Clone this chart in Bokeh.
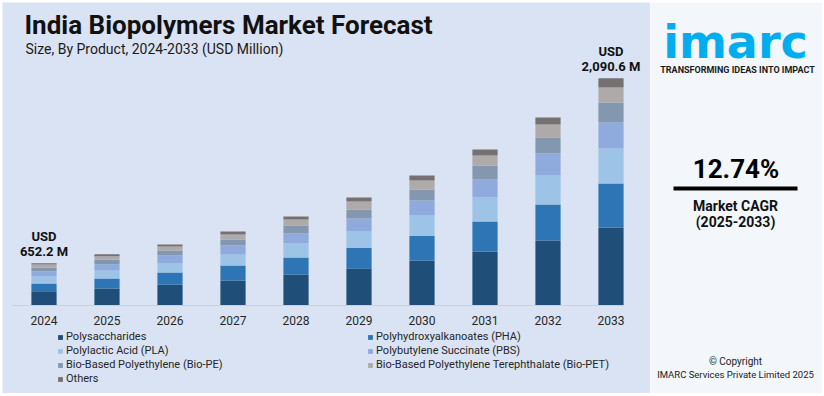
from bokeh.plotting import figure
from bokeh.models import Range1d, Legend, LegendItem, ColumnDataSource, Spacer
from bokeh.layouts import row, column
from bokeh.embed import file_html
from bokeh.resources import INLINE
from bokeh.core.properties import value

# ---------------- data ----------------
years = ["2024", "2025", "2026", "2027", "2028", "2029", "2030", "2031", "2032", "2033"]
series_names = [
    "Polysaccharides",
    "Polyhydroxyalkanoates (PHA)",
    "Polylactic Acid (PLA)",
    "Polybutylene Succinate (PBS)",
    "Bio-Based Polyethylene (Bio-PE)",
    "Bio-Based Polyethylene Terephthalate (Bio-PET)",
    "Others",
]
polysaccharides = [434.5, 455.5, 486.6, 517.7, 564.3, 608.6, 673.2, 743.2, 828.7, 929.8]
pha = [59.9, 77.8, 93.3, 116.6, 132.2, 163.3, 192.0, 233.3, 279.9, 342.1]
pla = [54.4, 62.2, 70.0, 85.5, 108.9, 126.7, 157.8, 186.6, 225.5, 272.1]
pbs = [38.9, 49.0, 62.2, 70.0, 77.8, 101.1, 116.6, 140.0, 171.0, 202.2]
bio_pe = [31.1, 36.5, 38.9, 46.7, 62.2, 67.6, 85.5, 108.9, 124.4, 155.5]
bio_pet = [23.3, 25.7, 31.1, 38.9, 46.7, 64.5, 70.0, 77.8, 101.1, 116.6]
others = [10.1, 15.6, 15.6, 23.3, 23.3, 31.1, 38.9, 46.7, 54.4, 72.3]
colors = ["#1f4e79", "#2e75b6", "#9dc3e6", "#8faadc", "#8497b0", "#aeaaaa", "#767171"]
axis_min = 323.3          # value axis of the bar chart starts here (not at zero)
cagr_text = "12.74%"
cagr_period = "(2025-2033)"

series = [polysaccharides, pha, pla, pbs, bio_pe, bio_pet, others]
n = len(years)
idx = list(range(n))
totals = [round(sum(v), 1) for v in zip(*series)]

BG = "#dae3f3"
FONT = "Roboto"
PX = 7.775  # value units per pixel

# ---------------- left panel ----------------
W1, H1 = 648, 391
x0 = -41.5 / 63.0
p = figure(width=W1, height=H1, output_backend="svg", toolbar_location=None,
           x_range=Range1d(x0, x0 + W1 / 63.0),
           y_range=Range1d(axis_min - 88 * PX, axis_min + 303 * PX),
           min_border=0)
p.background_fill_color = BG
p.border_fill_color = BG
p.outline_line_color = None
p.grid.visible = False
p.axis.visible = False

# stacked bars (clipped at the value-axis minimum)
renderers = []
cum = [0.0] * n
for name, s, c in zip(series_names, series, colors):
    bottoms = [max(b, axis_min) for b in cum]
    tops = [b + v for b, v in zip(cum, s)]
    src = ColumnDataSource(dict(x=idx, bottom=bottoms, top=tops))
    r = p.vbar(x="x", bottom="bottom", top="top", width=0.4, fill_color=c,
               line_color=None, source=src)
    renderers.append(r)
    cum = tops

# category axis line and labels
p.segment(x0=[idx[0] - 0.5], x1=[idx[-1] + 0.214], y0=[axis_min], y1=[axis_min],
          line_color="#c9d0dc", line_width=1)
p.text(x=idx, y=[axis_min] * n, text=years, y_offset=15, text_align="center",
       text_baseline="middle", text_font=value(FONT), text_font_size="12px",
       text_color="#262626")

# total labels on first and last bar
lbl_x, lbl_y, lbl_t, lbl_off = [], [], [], []
for i in (idx[0], idx[-1]):
    lbl_x += [i, i]
    lbl_y += [totals[i], totals[i]]
    lbl_t += ["USD", "{:,.1f} M".format(totals[i])]
    lbl_off += [-27, -12]
p.text(x=lbl_x, y=lbl_y, text=lbl_t, y_offset=lbl_off, text_align="center",
       text_baseline="middle", text_font=value(FONT), text_font_style="bold",
       text_font_size="13px", text_color="#111111")

# title / subtitle  (screen rows 24 and 48)
p.text(x=[x0], y=[axis_min + (305 - 24) * PX], x_offset=22,
       text=["India Biopolymers Market Forecast"],
       text_font=value(FONT), text_font_style="bold", text_font_size="26px",
       text_color="#111111", text_baseline="middle")
p.text(x=[x0], y=[axis_min + (305 - 48) * PX], x_offset=23,
       text=["Size, By Product, 2024-2033 (USD Million)"],
       text_font=value(FONT), text_font_size="14px", text_color="#1a1a1a",
       text_baseline="middle")

legend = Legend(items=[LegendItem(label=nm, renderers=[r]) for nm, r in zip(series_names, renderers)],
                location=(55, 8), orientation="horizontal", ncols=2,
                glyph_width=6, glyph_height=6, label_standoff=3, label_width=300,
                label_height=11, spacing=1, padding=0, margin=0,
                label_text_font=FONT, label_text_font_size="11px", label_text_color="#262626",
                background_fill_alpha=0, border_line_color=None)
p.add_layout(legend, "center")

# ---------------- right panel ----------------
W2 = 172
q = figure(width=W2, height=H1, output_backend="svg", toolbar_location=None,
           x_range=Range1d(0, W2), y_range=Range1d(H1, 0), min_border=0)
q.background_fill_color = "#f3f6fa"
q.border_fill_color = "#f3f6fa"
q.outline_line_color = None
q.axis.visible = False
q.grid.visible = False

q.text(x=[85], y=[39], text=["imarc"], text_align="center", text_baseline="middle",
       text_font=value("DejaVu Sans"), text_font_style="bold", text_font_size="46px",
       text_color="#00aeef")
q.text(x=[87], y=[67.7], text=["TRANSFORMING IDEAS INTO IMPACT"], text_align="center",
       text_baseline="middle", text_font=value(FONT), text_font_style="bold",
       text_font_size="9px", text_color="#1a1a1a")
q.text(x=[85.5], y=[166], text=[cagr_text], text_align="center", text_baseline="middle",
       text_font=value(FONT), text_font_style="bold", text_font_size="26px", text_color="#000000")
q.segment(x0=[23], y0=[186], x1=[147], y1=[186], line_width=4, line_color="#000000")
q.text(x=[85, 85], y=[203, 219.7], text=["Market CAGR", cagr_period], text_align="center",
       text_baseline="middle", text_font=value(FONT), text_font_style="bold",
       text_font_size="14px", text_color="#111111")
q.text(x=[85, 85], y=[359, 372], text=["\u00a9 Copyright", "IMARC Services Private Limited 2025"],
       text_align="center", text_baseline="middle", text_font=value(FONT),
       text_font_size=["10px", "9.5px"], text_color="#222222")

layout = column(Spacer(height=2), row(Spacer(width=2), p, q))
open("out.html", "w").write(file_html(layout, INLINE))
